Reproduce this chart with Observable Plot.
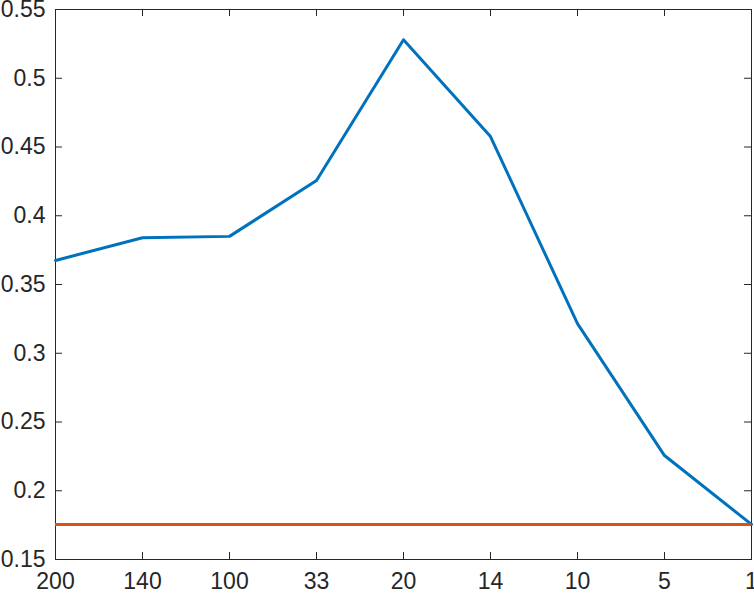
<!DOCTYPE html>
<html>
<head>
<meta charset="utf-8">
<script src="https://cdn.jsdelivr.net/npm/d3@7"></script>
<script src="https://cdn.jsdelivr.net/npm/@observablehq/plot@0.6"></script>
<style>
  html, body { margin: 0; padding: 0; background: #fff; }
</style>
</head>
<body>
<div id="chart"></div>
<script>
const categories = ["200", "140", "100", "33", "20", "14", "10", "5", "1"];
const seriesValues = [0.3675, 0.384, 0.385, 0.4256, 0.528, 0.4576, 0.3215, 0.2256, 0.1755];
const baselineValue = 0.1755;
const yTickValues = [0.15, 0.2, 0.25, 0.3, 0.35, 0.4, 0.45, 0.5, 0.55];

const data = categories.map((c, i) => ({cat: c, v: seriesValues[i]}));

const W = 754, H = 593;
const mL = 55, mR = 3, mT = 9, mB = 34;
const fw = W - mL - mR, fh = H - mT - mB;
const tk = 7;
const axisColor = "#262626";
const fs = 23;

const chart = Plot.plot({
  width: W,
  height: H,
  marginLeft: mL,
  marginRight: mR,
  marginTop: mT,
  marginBottom: mB,
  style: {fontFamily: "Liberation Sans, Arial, sans-serif", fontSize: fs + "px", color: axisColor, background: "#fff"},
  x: {type: "point", domain: categories, padding: 0},
  y: {domain: [0.15, 0.55]},
  marks: [
    Plot.axisY({ticks: yTickValues, tickSize: 0, tickPadding: 10, tickFormat: d => String(+d.toFixed(2)), label: null, fill: axisColor, fontSize: fs}),
    Plot.axisX({tickSize: 0, tickPadding: 13, label: null, fill: axisColor, fontSize: fs}),
    Plot.tickY(yTickValues, {y: d => d, insetRight: fw - tk, stroke: axisColor, strokeWidth: 1}),
    Plot.tickY(yTickValues, {y: d => d, insetLeft: fw - tk, stroke: axisColor, strokeWidth: 1}),
    Plot.tickX(categories, {x: d => d, insetTop: fh - tk, stroke: axisColor, strokeWidth: 1}),
    Plot.tickX(categories, {x: d => d, insetBottom: fh - tk, stroke: axisColor, strokeWidth: 1}),
    Plot.frame({stroke: axisColor, strokeWidth: 1}),
    Plot.line(data, {x: "cat", y: "v", stroke: "#0072BD", strokeWidth: 3}),
    Plot.ruleY([baselineValue], {stroke: "#D95319", strokeWidth: 3})
  ]
});
document.getElementById("chart").appendChild(chart);
</script>
</body>
</html>
